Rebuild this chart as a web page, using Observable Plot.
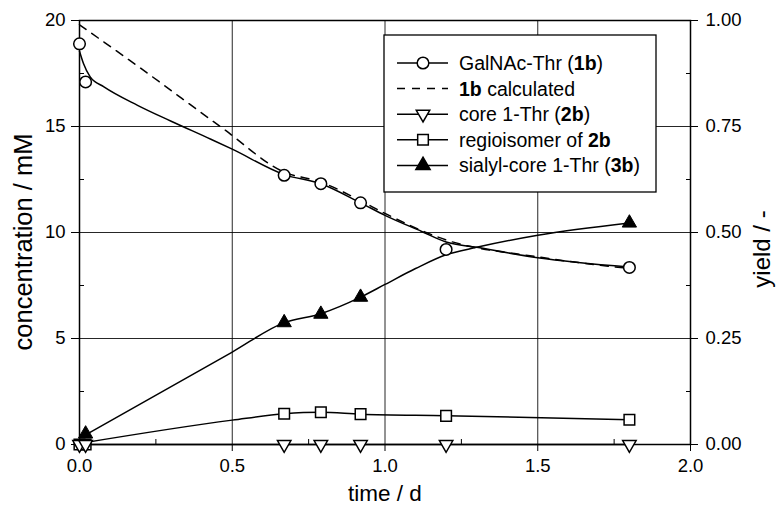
<!DOCTYPE html>
<html><head><meta charset="utf-8">
<script src="https://cdn.jsdelivr.net/npm/d3@7"></script>
<script src="https://cdn.jsdelivr.net/npm/@observablehq/plot@0.6"></script>
<style>body{margin:0;background:#fff} svg{font-family:"Liberation Sans",Arial,sans-serif}</style>
</head><body><div id="chart"></div>
<script>
// measured points
const times = [0, 0.02, 0.67, 0.79, 0.92, 1.2, 1.8];
const galnacThr = [18.9, 17.1, 12.7, 12.3, 11.4, 9.2, 8.35];
const core1Thr = [0, 0, 0, 0, 0, 0, 0];
const regioisomer = [0, 0, 1.45, 1.52, 1.43, 1.35, 1.17];
const sialylTimes = [0.02, 0.67, 0.79, 0.92, 1.8];
const sialylCore1Thr = [0.5, 5.75, 6.15, 6.95, 10.45];

// curves
const galnacCurveT = [0, 0.013, 0.035, 0.08, 0.19, 0.3, 0.43, 0.5, 0.67, 0.79, 0.92, 1.0, 1.12, 1.2, 1.3, 1.5, 1.8];
const galnacCurveC = [18.55, 17.97, 17.34, 16.87, 16.0, 15.25, 14.4, 13.93, 12.73, 12.3, 11.4, 10.81, 10.05, 9.55, 9.3, 8.81, 8.37];
const calcCurveT = [0, 0.2, 0.47, 0.67, 0.79, 0.92, 1.0, 1.2, 1.5, 1.8];
const calcCurveC = [19.8, 17.75, 14.9, 12.85, 12.38, 11.5, 10.9, 9.65, 8.85, 8.3];
const sialylCurveT = [0.02, 0.5, 0.67, 0.79, 0.92, 1.0, 1.1, 1.2, 1.3, 1.5, 1.8];
const sialylCurveC = [0.45, 4.36, 5.75, 6.17, 6.95, 7.55, 8.3, 8.95, 9.3, 9.87, 10.45];
const regioCurveT = [0, 0.5, 0.67, 0.79, 0.92, 1.2, 1.8];
const regioCurveC = [0.05, 1.15, 1.45, 1.52, 1.43, 1.36, 1.17];
const coreCurveT = [0, 1.8];
const coreCurveC = [0, 0];

// axes
const xTicks = [0, 0.5, 1, 1.5, 2];
const xTickLabels = ["0.0", "0.5", "1.0", "1.5", "2.0"];
const xMinor = [0.25, 0.75, 1.25, 1.75];
const yTicks = [0, 5, 10, 15, 20];
const yMinor = [2.5, 7.5, 12.5, 17.5];
const yieldTickLabels = ["0.00", "0.25", "0.50", "0.75", "1.00"];
const xTitle = "time / d";
const yTitle = "concentration / mM";
const y2Title = "yield / -";

const legendItems = [
  {parts: [["GalNAc-Thr (", false], ["1b", true], [")", false]], kind: "circle"},
  {parts: [["1b", true], [" calculated", false]], kind: "dash"},
  {parts: [["core 1-Thr (", false], ["2b", true], [")", false]], kind: "tridown"},
  {parts: [["regioisomer of ", false], ["2b", true]], kind: "square"},
  {parts: [["sialyl-core 1-Thr (", false], ["3b", true], [")", false]], kind: "triup"}
];

const toRows = (T, V) => T.map((t, i) => ({t, v: V[i]}));
const triangleDown = {
  draw(context, size) {
    const y = Math.sqrt(size / (Math.sqrt(3) * 3));
    context.moveTo(0, 2 * y);
    context.lineTo(-Math.sqrt(3) * y, -y);
    context.lineTo(Math.sqrt(3) * y, -y);
    context.closePath();
  }
};

const TICKFONT = "18.5px";
const lineOpts = {x: "t", y: "v", stroke: "black", strokeWidth: 1.5, curve: "monotone-x"};

const chart = Plot.plot({
  width: 776, height: 511,
  marginLeft: 79, marginRight: 86, marginTop: 20, marginBottom: 67,
  style: {fontFamily: "'Liberation Sans', Arial, sans-serif", fontSize: TICKFONT, background: "white", color: "black"},
  x: {domain: [0, 2]},
  y: {domain: [0, 20]},
  marks: [
    Plot.gridX(xTicks.slice(1, -1), {stroke: "black", strokeOpacity: 0.85, strokeWidth: 1}),
    Plot.gridY(yTicks.slice(1, -1), {stroke: "black", strokeOpacity: 0.85, strokeWidth: 1}),
    Plot.frame({stroke: "black", strokeWidth: 1.5}),
    // major axes
    Plot.axisX(xTicks, {anchor: "bottom", tickSize: 7, tickPadding: 7, tickFormat: (d, i) => xTickLabels[i], fontSize: TICKFONT, label: null}),
    Plot.axisY(yTicks, {anchor: "left", tickSize: 8, tickPadding: 6, tickFormat: d => String(d), fontSize: TICKFONT, label: null}),
    Plot.axisY(yTicks, {anchor: "right", tickSize: 7, tickPadding: 8, tickFormat: (d, i) => yieldTickLabels[i], fontSize: TICKFONT, label: null}),
    // minor (inward) ticks
    Plot.axisX(xMinor, {anchor: "bottom", tickSize: 5, dy: -5, text: null, label: null}),
    Plot.axisY(yMinor, {anchor: "left", tickSize: 5, dx: 5, text: null, label: null}),
    Plot.axisY(yMinor, {anchor: "right", tickSize: 5, dx: -5, text: null, label: null}),
    // curves
    Plot.line(toRows(coreCurveT, coreCurveC), lineOpts),
    Plot.line(toRows(regioCurveT, regioCurveC), lineOpts),
    Plot.line(toRows(sialylCurveT, sialylCurveC), lineOpts),
    Plot.line(toRows(calcCurveT, calcCurveC), {...lineOpts, strokeDasharray: "8,7"}),
    Plot.line(toRows(galnacCurveT, galnacCurveC), lineOpts),
    // markers
    Plot.dot(toRows(times, regioisomer), {x: "t", y: "v", symbol: "square", r: 6, fill: "white", stroke: "black", strokeWidth: 1.5}),
    Plot.dot(toRows(times, core1Thr), {x: "t", y: "v", symbol: triangleDown, r: 5, fill: "white", stroke: "black", strokeWidth: 1.5}),
    Plot.dot(toRows(sialylTimes, sialylCore1Thr), {x: "t", y: "v", symbol: "triangle", r: 5.3, fill: "black", stroke: "black", strokeWidth: 1}),
    Plot.dot(toRows(times, galnacThr), {x: "t", y: "v", symbol: "circle", r: 5.8, fill: "white", stroke: "black", strokeWidth: 1.5})
  ]
});
document.getElementById("chart").appendChild(chart);

const svg = d3.select(chart);
const FF = "'Liberation Sans', Arial, sans-serif";

// axis titles
const titles = svg.append("g").attr("font-family", FF).attr("fill", "black");
titles.append("text").text(xTitle).attr("x", 385).attr("y", 501)
  .attr("text-anchor", "middle").attr("font-size", "22.5px");
titles.append("text").text(yTitle).attr("transform", "translate(32,242) rotate(-90)")
  .attr("text-anchor", "middle").attr("font-size", "25.5px");
titles.append("text").text(y2Title).attr("transform", "translate(770,249) rotate(-90)")
  .attr("text-anchor", "middle").attr("font-size", "24px");

// legend
const lg = svg.append("g").attr("font-family", FF).attr("font-size", "19.5px").attr("text-anchor", "start");
const box = {x: 384, y: 35, w: 272, h: 157};
lg.append("rect").attr("x", box.x).attr("y", box.y).attr("width", box.w).attr("height", box.h)
  .attr("fill", "white").attr("stroke", "black").attr("stroke-width", 1.3);
const rowY0 = 63, rowStep = 25.6;
const sym = {
  circle: d3.symbol(d3.symbolCircle, Math.PI * 5.8 * 5.8),
  square: d3.symbol(d3.symbolSquare, Math.PI * 6 * 6),
  triup: d3.symbol(d3.symbolTriangle, Math.PI * 5.3 * 5.3),
  tridown: d3.symbol(triangleDown, Math.PI * 5 * 5)
};
legendItems.forEach((it, i) => {
  const y = rowY0 + i * rowStep;
  const g = lg.append("g").attr("transform", `translate(0,${y})`);
  g.append("line").attr("x1", 397).attr("x2", 448).attr("y1", 0).attr("y2", 0)
    .attr("stroke", "black").attr("stroke-width", 1.5)
    .attr("stroke-dasharray", it.kind === "dash" ? "8,7" : null);
  if (it.kind !== "dash") {
    g.append("path").attr("transform", "translate(423,0)").attr("d", sym[it.kind]())
      .attr("fill", it.kind === "triup" ? "black" : "white").attr("stroke", "black").attr("stroke-width", 1.5);
  }
  const t = g.append("text").attr("x", 459).attr("y", 0).attr("dy", "0.36em");
  it.parts.forEach(([s, b]) => t.append("tspan").text(s).attr("font-weight", b ? "bold" : null));
});
</script>
</body></html>
